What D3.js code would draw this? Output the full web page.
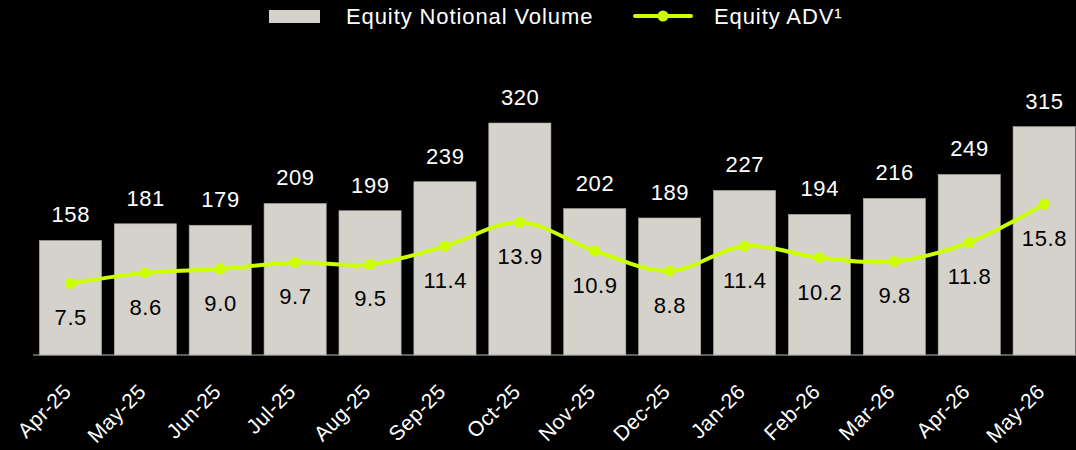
<!DOCTYPE html>
<html>
<head>
<meta charset="utf-8">
<title>Equity Notional Volume</title>
<script src="https://cdn.jsdelivr.net/npm/d3@7"></script>
<style>
  body { margin: 0; background: #000; }
  svg { display: block; font-family: "Liberation Sans", Arial, sans-serif; }
</style>
</head>
<body>
<script>
// data
var months = ["Apr-25", "May-25", "Jun-25", "Jul-25", "Aug-25", "Sep-25", "Oct-25",
              "Nov-25", "Dec-25", "Jan-26", "Feb-26", "Mar-26", "Apr-26", "May-26"];
var volume = [158, 181, 179, 209, 199, 239, 320, 202, 189, 227, 194, 216, 249, 315];
var adv = [7.5, 8.6, 9.0, 9.7, 9.5, 11.4, 13.9, 10.9, 8.8, 11.4, 10.2, 9.8, 11.8, 15.8];

var width = 1076, height = 450;
var base = 355;

var svg = d3.select("body").append("svg")
    .attr("width", width)
    .attr("height", height);

var x = d3.scaleBand()
    .domain(months)
    .range([33, 33 + 14 * 74.9])
    .paddingInner(0.17)
    .paddingOuter(0.085);

var y = d3.scaleLinear().domain([0, 400]).range([base, base - 290]);
var y2 = d3.scaleLinear().domain([0, 30.37]).range([base, base - 290]);

// bars
svg.selectAll("rect.bar")
    .data(volume)
    .enter().append("rect")
    .attr("class", "bar")
    .attr("x", function(d, i) { return x(months[i]); })
    .attr("y", function(d) { return y(d); })
    .attr("width", x.bandwidth())
    .attr("height", function(d) { return base - y(d); })
    .attr("fill", "#d5d1cb")
    .attr("stroke", "#a9a6a1")
    .attr("stroke-width", 0.6);

svg.selectAll("text.vol")
    .data(volume)
    .enter().append("text")
    .attr("x", function(d, i) { return x(months[i]) + x.bandwidth() / 2 + 0.3; })
    .attr("y", function(d) { return y(d) - 18; })
    .attr("text-anchor", "middle")
    .attr("fill", "#fff")
    .attr("font-size", 22)
    .attr("letter-spacing", 0.6)
    .text(function(d) { return d; });

// baseline
svg.append("line")
    .attr("x1", 33).attr("x2", width)
    .attr("y1", base).attr("y2", base)
    .attr("stroke", "#bdbab5")
    .attr("stroke-width", 1.2);

// ADV line
var cx = function(d, i) { return x(months[i]) + x.bandwidth() / 2; };
var line = d3.line()
    .x(cx)
    .y(function(d) { return y2(d); })
    .curve(d3.curveCatmullRom.alpha(0.5));

svg.append("path")
    .datum(adv)
    .attr("d", line)
    .attr("fill", "none")
    .attr("stroke", "#ccff00")
    .attr("stroke-width", 4);

svg.selectAll("circle.pt")
    .data(adv)
    .enter().append("circle")
    .attr("cx", cx)
    .attr("cy", function(d) { return y2(d); })
    .attr("r", 5.5)
    .attr("fill", "#ccff00");

svg.selectAll("text.adv")
    .data(adv)
    .enter().append("text")
    .attr("x", function(d, i) { return cx(d, i) + 0.3; })
    .attr("y", function(d) { return y2(d) + 42; })
    .attr("text-anchor", "middle")
    .attr("fill", "#000")
    .attr("font-size", 22)
    .attr("letter-spacing", 0.6)
    .text(function(d) { return d.toFixed(1); });

// month labels
svg.selectAll("text.month")
    .data(months)
    .enter().append("text")
    .attr("transform", function(d) {
        return "translate(" + (x(d) + x.bandwidth() / 2 + 2) + "," + (base + 38) + ") rotate(-45)";
    })
    .attr("text-anchor", "end")
    .attr("fill", "#fff")
    .attr("font-size", 21)
    .attr("letter-spacing", 0.4)
    .text(function(d) { return d; });

// legend
svg.append("rect")
    .attr("x", 269).attr("y", 10)
    .attr("width", 51).attr("height", 13)
    .attr("fill", "#d5d1cb");
svg.append("text")
    .attr("x", 346).attr("y", 24)
    .attr("fill", "#fff")
    .attr("font-size", 22)
    .attr("letter-spacing", 0.9)
    .text("Equity Notional Volume");

svg.append("line")
    .attr("x1", 635).attr("x2", 691)
    .attr("y1", 16).attr("y2", 16)
    .attr("stroke", "#ccff00")
    .attr("stroke-width", 4)
    .attr("stroke-linecap", "round");
svg.append("circle")
    .attr("cx", 663).attr("cy", 16).attr("r", 5.5)
    .attr("fill", "#ccff00");
svg.append("text")
    .attr("x", 714).attr("y", 24)
    .attr("fill", "#fff")
    .attr("font-size", 22)
    .attr("letter-spacing", 0.9)
    .text("Equity ADV¹");
</script>
</body>
</html>
